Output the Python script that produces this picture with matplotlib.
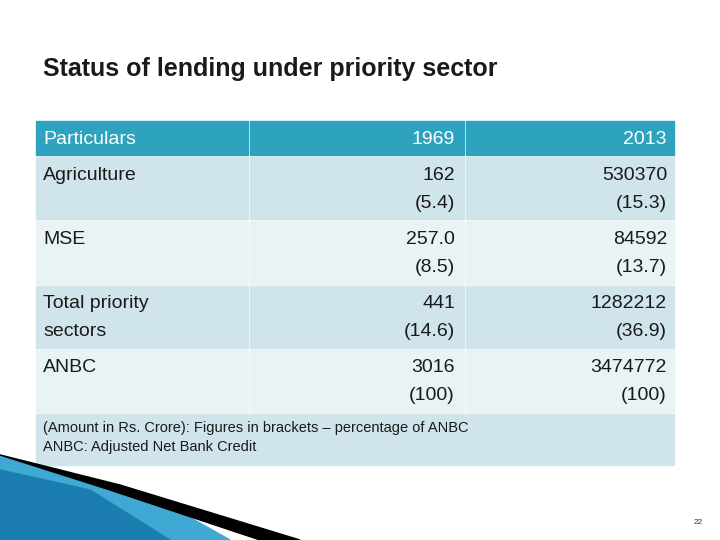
import matplotlib.pyplot as plt
from matplotlib.patches import Rectangle, Polygon

plt.rcParams['font.family'] = ['Liberation Sans', 'DejaVu Sans']

title = 'Status of lending under priority sector'
headers = ['Particulars', '1969', '2013']
categories = [['Agriculture'], ['MSE'], ['Total priority', 'sectors'], ['ANBC']]
amount_1969 = ['162', '257.0', '441', '3016']
share_1969 = ['(5.4)', '(8.5)', '(14.6)', '(100)']
amount_2013 = ['530370', '84592', '1282212', '3474772']
share_2013 = ['(15.3)', '(13.7)', '(36.9)', '(100)']
footnote = ['(Amount in Rs. Crore): Figures in brackets – percentage of ANBC',
            'ANBC: Adjusted Net Bank Credit']

fig = plt.figure(figsize=(7.2, 5.4), dpi=100)
ax = fig.add_axes([0, 0, 1, 1])
ax.set_xlim(0, 720)
ax.set_ylim(540, 0)
ax.axis('off')

ax.text(43, 69, title, fontsize=18, fontweight='bold', color='#1a1a1a', va='center')

cols = [(36, 248), (250, 464), (466, 674)]
dark, light = '#D0E4EB', '#E9F2F5'
fs = 14
tc = '#1a1a1a'

# header
for x0, x1 in cols:
    ax.add_patch(Rectangle((x0, 121), x1 - x0, 34, color='#2EA3C0'))
ax.text(43, 139, headers[0], fontsize=fs, color='white', va='center')
ax.text(455, 139, headers[1], fontsize=fs, color='white', va='center', ha='right')
ax.text(667, 139, headers[2], fontsize=fs, color='white', va='center', ha='right')

rows = [(157, 219), (221, 284), (286, 348), (350, 412)]
for i, (y0, y1) in enumerate(rows):
    c = dark if i % 2 == 0 else light
    for x0, x1 in cols:
        ax.add_patch(Rectangle((x0, y0), x1 - x0, y1 - y0, color=c))
    for k, line in enumerate(categories[i]):
        ax.text(43, y0 + 18 + 28 * k, line, fontsize=fs, va='center', color=tc)
    ax.text(455, y0 + 18, amount_1969[i], fontsize=fs, va='center', ha='right', color=tc)
    ax.text(455, y0 + 46, share_1969[i], fontsize=fs, va='center', ha='right', color=tc)
    ax.text(667, y0 + 18, amount_2013[i], fontsize=fs, va='center', ha='right', color=tc)
    ax.text(667, y0 + 46, share_2013[i], fontsize=fs, va='center', ha='right', color=tc)

ax.add_patch(Rectangle((36, 414), 638, 51, color=dark))
ax.text(43, 428, footnote[0], fontsize=10.5, va='center', color=tc)
ax.text(43, 447, footnote[1], fontsize=10.5, va='center', color=tc)

# bottom-left decoration
ax.add_patch(Polygon([(0, 455), (60, 470), (150, 495), (230, 540), (0, 540)], color='#3FA9D3'))
ax.add_patch(Polygon([(0, 470), (90, 490), (170, 540), (0, 540)], color='#1B7DB0'))
ax.add_patch(Polygon([(0, 455), (120, 485), (300, 540), (260, 540), (110, 490)], color='black'))

ax.text(703, 522, '22', fontsize=6, ha='right', va='center', color='#333333')

fig.savefig('out.png', dpi=100)
